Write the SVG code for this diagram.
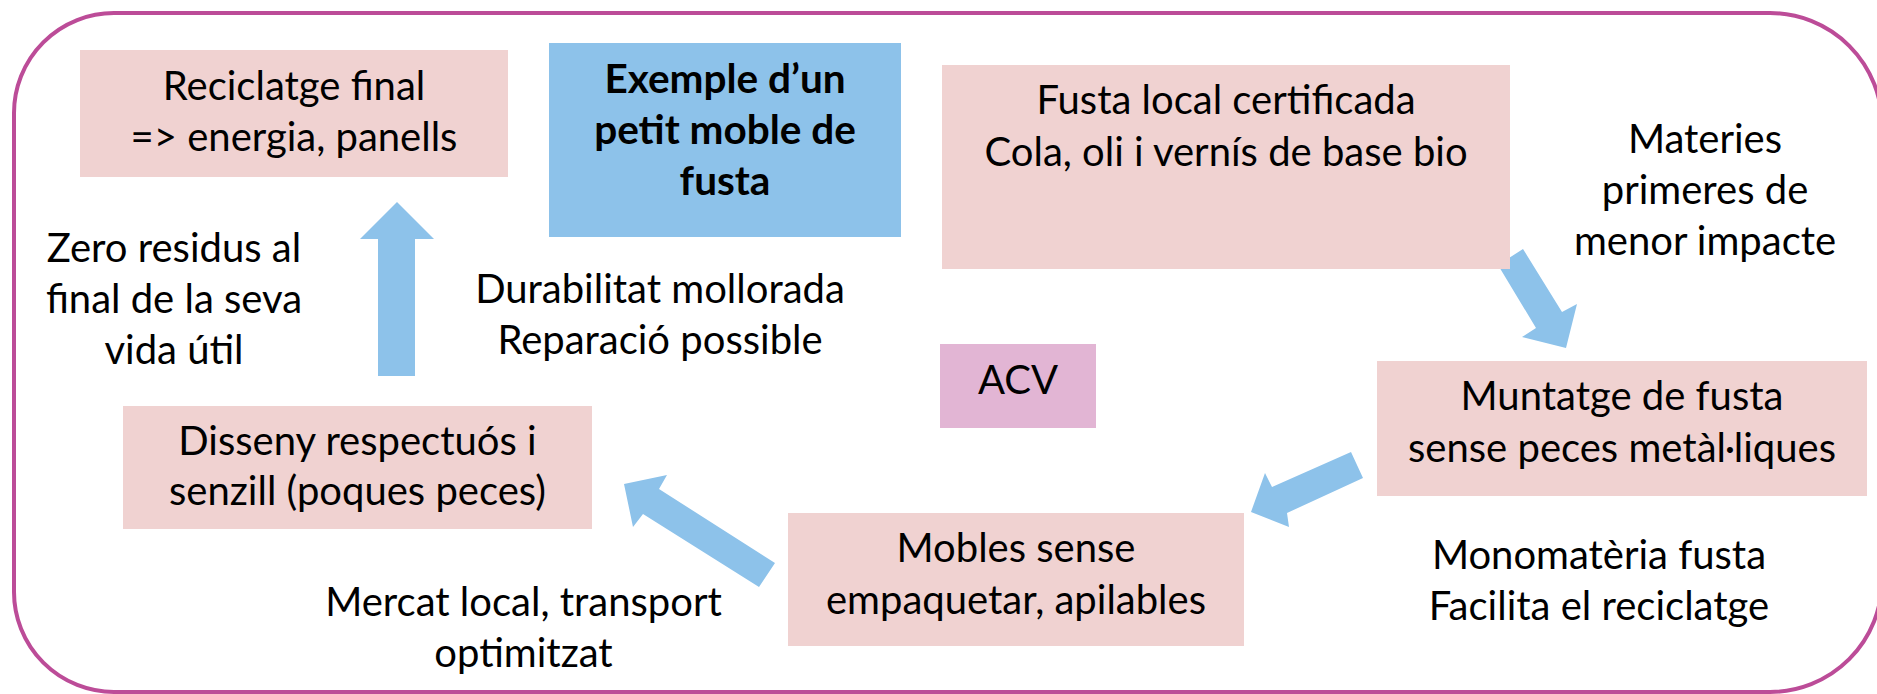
<svg xmlns="http://www.w3.org/2000/svg" width="1877" height="694" viewBox="0 0 1877 694">
<style>
.frame{fill:#ffffff;stroke:#BC4C98;stroke-width:4}
.pink{fill:#F0D2D1}
.blue{fill:#8DC2EA}
.acv{fill:#E2B5D4}
.arrow{fill:#8DC2EA}
text{font-family:Lato,"Liberation Sans",sans-serif;font-size:40px;fill:#000;text-anchor:middle}
.b{font-weight:bold;font-size:40.5px}
</style>
<path class="frame" d="M114,13 H1770 A112,112 0 0 1 1882,125 V580 A112,112 0 0 1 1770,692 H114 A100,100 0 0 1 14,592 V113 A100,100 0 0 1 114,13 Z"/>
<g id="connectors">
<polygon class="arrow" points="397,202 434,239 415,239 415,376 378,376 378,239 360,239"/>
<polygon class="arrow" points="1498,265 1523,249 1562,312 1577,304 1566,348 1522,337 1536,328"/>
<polygon class="arrow" points="1351,452 1363,478 1287,513 1289,527 1251,512 1265,473 1272,487"/>
<polygon class="arrow" points="775,563 759,587 643,514 633,527 624,484 667,475 659,489"/>
</g>
<g id="reciclatge">
<rect class="pink" x="80" y="50" width="428" height="127"/>
<text x="294" y="100">Reciclatge final</text>
<text x="294" y="151">=&gt; energia, panells</text>
</g>
<g id="exemple">
<rect class="blue" x="549" y="43" width="352" height="194"/>
<text class="b" x="725" y="93">Exemple d’un</text>
<text class="b" x="725" y="144">petit moble de</text>
<text class="b" x="725" y="195">fusta</text>
</g>
<g id="fusta">
<rect class="pink" x="942" y="65" width="568" height="204"/>
<text x="1226" y="114">Fusta local certificada</text>
<text x="1226" y="166">Cola, oli i vernís de base bio</text>
</g>
<g id="materies">
<text x="1705" y="153">Materies</text>
<text x="1705" y="204">primeres de</text>
<text x="1705" y="255">menor impacte</text>
</g>
<g id="zero">
<text x="174" y="262">Zero residus al</text>
<text x="174" y="313">final de la seva</text>
<text x="174" y="364">vida útil</text>
</g>
<g id="durabilitat">
<text x="660" y="303">Durabilitat mollorada</text>
<text x="660" y="354">Reparació possible</text>
</g>
<g id="acv">
<rect class="acv" x="940" y="344" width="156" height="84"/>
<text x="1018" y="394">ACV</text>
</g>
<g id="muntatge">
<rect class="pink" x="1377" y="361" width="490" height="135"/>
<text x="1622" y="410">Muntatge de fusta</text>
<text x="1622" y="462">sense peces metàl·liques</text>
</g>
<g id="disseny">
<rect class="pink" x="123" y="406" width="469" height="123"/>
<text x="357.5" y="455">Disseny respectuós i</text>
<text x="357.5" y="505">senzill (poques peces)</text>
</g>
<g id="mobles">
<rect class="pink" x="788" y="513" width="456" height="133"/>
<text x="1016" y="562">Mobles sense</text>
<text x="1016" y="614">empaquetar, apilables</text>
</g>
<g id="monomateria">
<text x="1599" y="569">Monomatèria fusta</text>
<text x="1599" y="620">Facilita el reciclatge</text>
</g>
<g id="mercat">
<text x="523.5" y="616">Mercat local, transport</text>
<text x="523.5" y="667">optimitzat</text>
</g>
</svg>
